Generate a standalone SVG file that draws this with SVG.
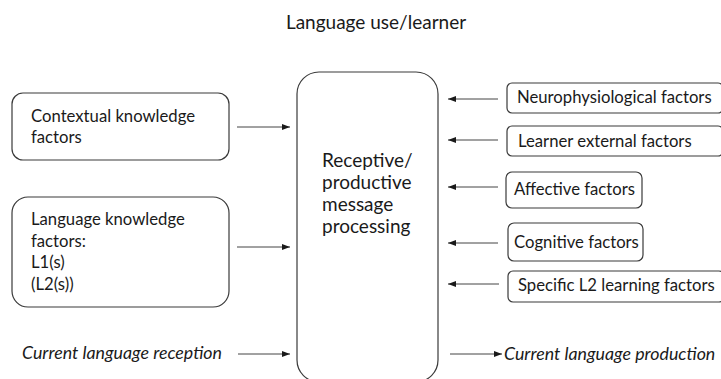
<svg xmlns="http://www.w3.org/2000/svg" width="721" height="379" viewBox="0 0 721 379">
  <style>
    .box { fill: #ffffff; stroke: #3a3a3a; stroke-width: 1.2; }
    .lbl { font-family: Lato, "Open Sans", "Liberation Sans", sans-serif; font-size: 16.7px; fill: #1a1a1a; }
    .big { font-size: 19px; }
    .it { font-style: italic; font-size: 17.8px; }
    .conn { stroke: #444444; stroke-width: 1; fill: none; marker-end: url(#head); }
  </style>
  <defs>
    <marker id="head" viewBox="0 0 8 6" refX="8" refY="3" markerWidth="8" markerHeight="6" markerUnits="userSpaceOnUse" orient="auto">
      <path d="M0,0 L8,3 L0,6 Z" fill="#1a1a1a"/>
    </marker>
  </defs>
  <rect width="721" height="379" fill="#ffffff"/>

  <text class="lbl" x="376" y="29" text-anchor="middle" style="font-size:19px">Language use/learner</text>

  <g id="contextual">
    <rect class="box" x="12" y="93" width="217" height="67" rx="11"/>
    <text class="lbl" x="31" y="122">Contextual knowledge</text>
    <text class="lbl" x="31" y="143">factors</text>
  </g>

  <g id="language-knowledge">
    <rect class="box" x="12" y="197" width="217" height="110" rx="16"/>
    <text class="lbl" x="31" y="225">Language knowledge</text>
    <text class="lbl" x="31" y="247">factors:</text>
    <text class="lbl" x="31" y="268">L1(s)</text>
    <text class="lbl" x="31" y="290">(L2(s))</text>
  </g>

  <g id="reception">
    <text class="lbl it" x="22" y="359">Current language reception</text>
  </g>

  <g id="processing">
    <rect class="box" x="297" y="72" width="141" height="310" rx="22"/>
    <text class="lbl big" x="322" y="167">Receptive/</text>
    <text class="lbl big" x="322" y="189">productive</text>
    <text class="lbl big" x="322" y="211">message</text>
    <text class="lbl big" x="322" y="233">processing</text>
  </g>

  <g id="neurophysiological">
    <rect class="box" x="507" y="83" width="216" height="30" rx="5"/>
    <text class="lbl" x="517" y="103">Neurophysiological factors</text>
  </g>

  <g id="learner-external">
    <rect class="box" x="507" y="126" width="216" height="30" rx="5"/>
    <text class="lbl" x="518" y="147">Learner external factors</text>
  </g>

  <g id="affective">
    <rect class="box" x="506" y="172" width="136" height="36" rx="6"/>
    <text class="lbl" x="514" y="195">Affective factors</text>
  </g>

  <g id="cognitive">
    <rect class="box" x="508" y="223" width="135" height="38" rx="6"/>
    <text class="lbl" x="514" y="248">Cognitive factors</text>
  </g>

  <g id="specific-l2">
    <rect class="box" x="508" y="271" width="216" height="31" rx="5"/>
    <text class="lbl" x="518" y="291">Specific L2 learning factors</text>
  </g>

  <g id="production">
    <text class="lbl it" x="504" y="360">Current language production</text>
  </g>

  <g id="connectors">
    <line class="conn" x1="237" y1="127" x2="290" y2="127"/>
    <line class="conn" x1="237" y1="247" x2="290" y2="247"/>
    <line class="conn" x1="238" y1="354" x2="290" y2="354"/>
    <line class="conn" x1="498" y1="99" x2="448" y2="99"/>
    <line class="conn" x1="498" y1="140" x2="448" y2="140"/>
    <line class="conn" x1="498" y1="187" x2="448" y2="187"/>
    <line class="conn" x1="498" y1="243" x2="448" y2="243"/>
    <line class="conn" x1="499" y1="284" x2="448" y2="284"/>
    <line class="conn" x1="450" y1="354" x2="502" y2="354"/>
  </g>
</svg>
